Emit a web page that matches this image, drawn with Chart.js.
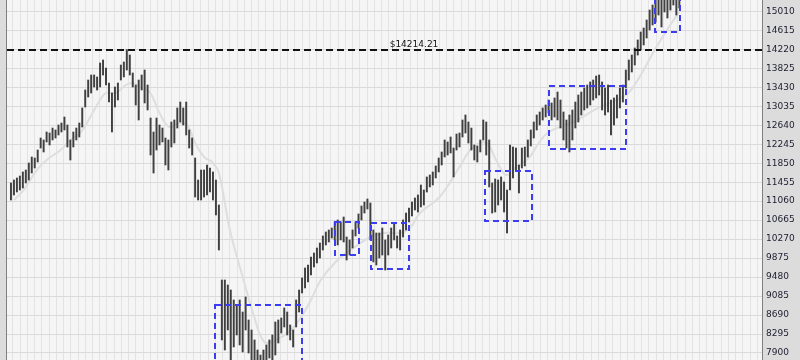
<!DOCTYPE html>
<html>
<head>
<meta charset="utf-8">
<script src="https://cdn.jsdelivr.net/npm/chart.js@4"></script>
<style>
  html, body { margin: 0; padding: 0; background: #dcdcdc; }
  #wrap { width: 800px; height: 360px; }
</style>
</head>
<body>
<div id="wrap"><canvas id="priceChart" width="800" height="360"></canvas></div>
<script>
// Daily high / low of each bar (bar index = position on the x axis)
const barLow = [
  11084, 11188, 11250, 11292, 11334, 11438, 11500, 11646, 11750, 11875,
  12166, 12083, 12291, 12229, 12333, 12374, 12437, 12499, 12541, 12187,
  11916, 12187, 12333, 12395, 12603, 13019, 13227, 13311, 13436, 13373,
  13436, 13685, 13477, 13123, 12499, 13019, 13165, 13581, 13644, 13789,
  13685, 13436, 13061, 12749, 13373, 13103, 12957, 12020, 11646, 12124,
  12229, 12291, 11812, 11708, 12187, 12270, 12582, 12707, 12645, 12437,
  12166, 12020, 11146, 11084, 11084, 11146, 11188, 11250, 11084, 10772,
  10043, 8171, 7962, 8379, 7754, 8025, 8275, 8067, 7921, 8379,
  7900, 7713, 7588, 7442, 7338, 7505, 7650, 7796, 7754, 7858,
  8108, 8316, 8441, 8275, 8171, 8025, 8441, 8753, 9149, 9253,
  9378, 9523, 9690, 9773, 9877, 10043, 10148, 10210, 10293, 10252,
  10148, 10252, 10210, 9835, 9939, 10085, 10335, 10501, 10668, 10813,
  10897, 10252, 9794, 9731, 9877, 9939, 9627, 9939, 10085, 10252,
  10085, 10043, 10314, 10460, 10626, 10751, 10876, 10834, 10938, 10980,
  11250, 11355, 11396, 11542, 11667, 11812, 11979, 12020, 12062, 11563,
  12124, 12187, 12395, 12478, 12270, 12124, 11916, 11875, 12083, 12333,
  12020, 11355, 10813, 10834, 10980, 11084, 10834, 10397, 11292, 11542,
  11708, 11230, 11750, 11792, 11979, 12208, 12374, 12541, 12645, 12749,
  12811, 12894, 12749, 12811, 12749, 12582, 12333, 12166, 12083, 12333,
  12582, 12707, 12853, 12957, 12999, 13061, 13165, 13207, 13269, 12957,
  12853, 12915, 12437, 12645, 12790, 12999, 13123, 13415, 13581, 13748,
  13893, 14101, 14206, 14310, 14455, 14622, 14726, 14788, 14934, 14684,
  14996, 14871, 15038, 15142, 14934, 15080
];
const barHigh = [
  11438, 11500, 11542, 11583, 11667, 11708, 11854, 11979, 11958, 12124,
  12374, 12333, 12499, 12478, 12582, 12541, 12645, 12686, 12811, 12645,
  12333, 12499, 12582, 12686, 12999, 13373, 13581, 13685, 13685, 13644,
  13935, 13997, 13831, 13519, 13311, 13436, 13519, 13893, 13956, 14214,
  14101, 13727, 13477, 13581, 13685, 13789, 13477, 12790, 12499, 12790,
  12645, 12582, 12374, 12333, 12707, 12749, 12999, 13123, 12999, 13123,
  12541, 12374, 11958, 11500, 11708, 11708, 11812, 11750, 11667, 11500,
  10980, 9419, 9419, 9315, 9211, 9003, 8899, 9003, 8753, 9065,
  8587, 8379, 8171, 7962, 7858, 7962, 8067, 8171, 8275, 8545,
  8587, 8628, 8837, 8753, 8483, 8379, 9003, 9211, 9461, 9669,
  9731, 9898, 9981, 10085, 10189, 10335, 10418, 10460, 10501, 10626,
  10668, 10626, 10730, 10314, 10252, 10460, 10626, 10793, 10959, 11042,
  11105, 11022, 10460, 10397, 10397, 10501, 10252, 10356, 10501, 10605,
  10335, 10460, 10668, 10813, 10918, 11042, 11126, 11188, 11396, 11292,
  11563, 11604, 11667, 11792, 11958, 12083, 12333, 12291, 12395, 12166,
  12457, 12478, 12749, 12853, 12707, 12582, 12229, 12208, 12333, 12749,
  12707, 12333, 11438, 11521, 11500, 11563, 11459, 11292, 12229, 12187,
  12166, 11812, 12166, 12187, 12333, 12541, 12707, 12853, 12915, 12999,
  13061, 13165, 13103, 13207, 13331, 13165, 12915, 12749, 12853, 12957,
  13123, 13269, 13331, 13415, 13477, 13540, 13581, 13664, 13685, 13540,
  13415, 13477, 13165, 13207, 13269, 13415, 13477, 13789, 13997, 14101,
  14247, 14414, 14580, 14663, 14830, 15038, 15142, 15350, 15350, 15308,
  15412, 15350, 15454, 15454, 15350, 15454
];

// Moving average, read at a few bar positions
const maIndex = [1, 4.3, 8.7, 12, 16.7, 20, 23.3, 26.7, 30, 32, 35.3, 38.7, 41, 43.3, 46.7, 50, 53.3, 56.7, 59.3, 62,
  65, 67.7, 70, 73.7, 78.3, 81.7, 85.3, 89.3, 94.3, 97.7, 101, 104.3, 109.3, 114.3, 121, 125.3, 131, 134.3, 137.7,
  144.3, 151, 155.3, 160, 163.3, 166.7, 170, 174.3, 177.7, 181, 189.3, 197.7, 207, 211, 217.7, 225.3];
const maValue = [11084, 11292, 11708, 11916, 12124, 12333, 12478, 12811, 13165, 13311, 13311, 13477, 13519, 13436, 13331, 12894, 12603, 12686, 12645, 12270,
  11979, 11875, 11646, 10460, 9419, 8691, 8129, 8171, 8379, 8650, 9003, 9419, 9794, 10043, 10314, 10397, 10397, 10501, 10813,
  11146, 11771, 12166, 12270, 11916, 11604, 11771, 11958, 12270, 12499, 12707, 12999, 13269, 13581, 14310, 15038];

// Dashed blue boxes: bar index range and price range
const boxFrom = [68.7, 109, 121.3, 159.7, 181, 216.7];
const boxTo = [98, 117.3, 134, 175.3, 207, 225.3];
const boxLow = [7546, 9939, 9648, 10647, 12145, 14580];
const boxHigh = [8899, 10626, 10605, 11687, 13456, 15454];

// Previous high
const prevHigh = 14214.21;
const prevHighLabel = '$14214.21';

// Right axis labels
const tickVals = [7900, 8295, 8690, 9085, 9480, 9875, 10270, 10665, 11060, 11455, 11850, 12245,
  12640, 13035, 13430, 13825, 14220, 14615, 15010];

const bars = barLow.map((lo, i) => ({ x: i, y: [lo, barHigh[i]] }));
const ma = maIndex.map((x, i) => ({ x: x, y: maValue[i] }));

// Backgrounds, frame lines and the annotations
const framePlugin = {
  id: 'frame',
  beforeDraw(chart) {
    const { ctx, chartArea: a, width, height } = chart;
    ctx.save();
    ctx.fillStyle = '#dcdcdc';
    ctx.fillRect(0, 0, width, height);
    ctx.fillStyle = '#f5f5f5';
    ctx.fillRect(a.left, a.top, a.right - a.left, a.bottom - a.top);
    ctx.restore();
  },
  afterDatasetsDraw(chart) {
    const { ctx, chartArea: a, scales } = chart;
    const xs = scales.x, ys = scales.y;
    ctx.save();
    ctx.beginPath();
    ctx.rect(a.left, a.top, a.right - a.left, a.bottom - a.top);
    ctx.clip();

    // blue boxes
    ctx.strokeStyle = '#3c3cf0';
    ctx.lineWidth = 2;
    ctx.setLineDash([6, 4]);
    boxFrom.forEach((x0, i) => {
      const l = Math.round(xs.getPixelForValue(x0));
      const r = Math.round(xs.getPixelForValue(boxTo[i]));
      const t = Math.round(ys.getPixelForValue(boxHigh[i]));
      const b = Math.round(ys.getPixelForValue(boxLow[i]));
      ctx.strokeRect(l, t, r - l, b - t);
    });

    // previous high line
    const py = Math.round(ys.getPixelForValue(prevHigh));
    ctx.strokeStyle = '#111';
    ctx.lineWidth = 2;
    ctx.setLineDash([7, 4]);
    ctx.beginPath();
    ctx.moveTo(a.left, py);
    ctx.lineTo(a.right, py);
    ctx.stroke();
    ctx.setLineDash([]);
    ctx.fillStyle = '#111';
    ctx.font = '9px "DejaVu Sans"';
    ctx.textAlign = 'center';
    ctx.textBaseline = 'bottom';
    ctx.fillText(prevHighLabel, 414, py - 1);
    ctx.restore();

    // frame lines
    ctx.save();
    ctx.strokeStyle = '#808080';
    ctx.lineWidth = 1;
    ctx.beginPath();
    ctx.moveTo(a.left - 0.5, 0);
    ctx.lineTo(a.left - 0.5, chart.height);
    ctx.moveTo(a.right + 0.5, 0);
    ctx.lineTo(a.right + 0.5, chart.height);
    ctx.stroke();
    ctx.restore();
  }
};

// drop the room Chart.js keeps for half-labels at the ends of the axes
function noEndPadding(scale) {
  scale.paddingTop = 0;
  scale.paddingBottom = 0;
  scale.paddingLeft = 0;
  scale.paddingRight = 0;
}

const ctx = document.getElementById('priceChart').getContext('2d');
new Chart(ctx, {
  type: 'bar',
  data: {
    datasets: [
      {
        type: 'bar',
        data: bars,
        backgroundColor: '#404040',
        barThickness: 1.3,
        order: 0
      },
      {
        type: 'line',
        data: ma,
        borderColor: '#dedede',
        borderWidth: 2,
        pointRadius: 0,
        tension: 0.4,
        order: 1
      }
    ]
  },
  options: {
    responsive: false,
    animation: false,
    events: [],
    layout: { autoPadding: false, padding: { left: 7, top: 0, bottom: 0, right: 0 } },
    plugins: { legend: { display: false }, tooltip: { enabled: false } },
    scales: {
      x: {
        type: 'linear',
        min: -0.1,
        max: 251.6,
        afterBuildTicks(scale) {
          const t = [];
          for (let v = 1.89; v < 251.6; v += 2.433) t.push({ value: v });
          scale.ticks = t;
        },
        afterFit(scale) { scale.height = 0; noEndPadding(scale); },
        ticks: { display: false },
        border: { display: false },
        grid: { color: '#e3e3e3', drawTicks: false }
      },
      y: {
        position: 'right',
        min: 7754,
        max: 15246,
        afterBuildTicks(scale) {
          scale.ticks = tickVals.map(v => ({ value: v }));
        },
        afterFit(scale) { scale.width = 38; noEndPadding(scale); },
        ticks: {
          padding: 4,
          color: '#1c1c30',
          font: { family: 'DejaVu Sans', size: 9 },
          callback: v => String(v)
        },
        border: { display: false },
        grid: { color: '#dadada', drawTicks: false }
      }
    }
  },
  plugins: [framePlugin]
});
</script>
</body>
</html>
